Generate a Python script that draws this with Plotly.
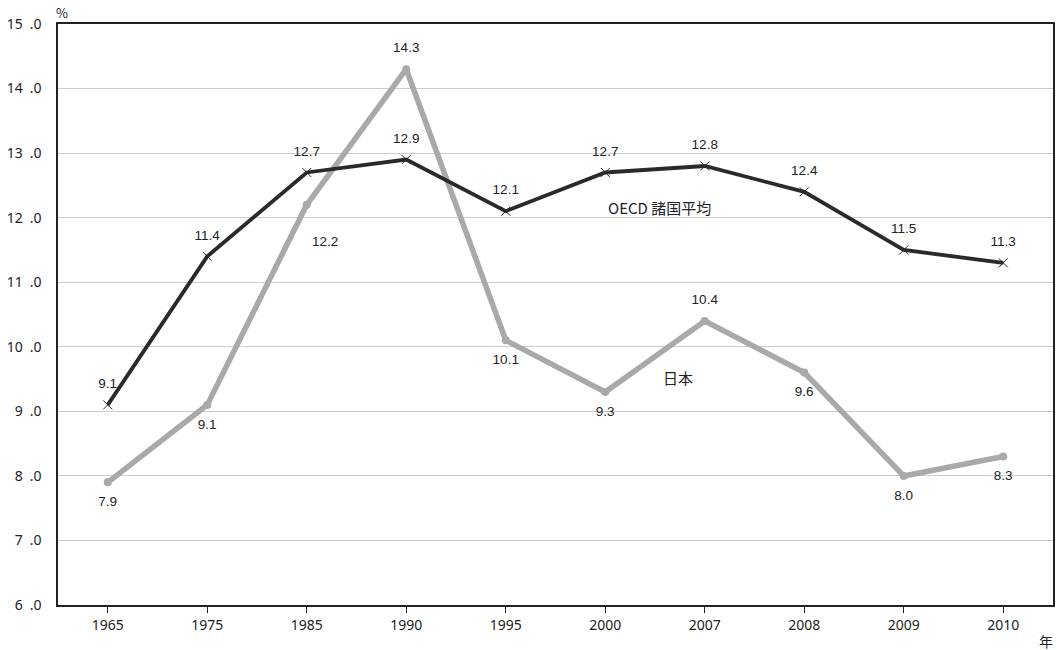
import plotly.graph_objects as go

years = ["1965", "1975", "1985", "1990", "1995", "2000", "2007", "2008", "2009", "2010"]
oecd = [9.1, 11.4, 12.7, 12.9, 12.1, 12.7, 12.8, 12.4, 11.5, 11.3]
japan = [7.9, 9.1, 12.2, 14.3, 10.1, 9.3, 10.4, 9.6, 8.0, 8.3]
japan_label_pos = ["bottom center", "bottom center", "bottom center", "top center", "bottom center",
                   "bottom center", "top center", "bottom center", "bottom center", "bottom center"]
y_ticks = [6, 7, 8, 9, 10, 11, 12, 13, 14, 15]
y_ticktext = [f"{v}\u2002.0" for v in y_ticks]

label_font = dict(family="Liberation Sans, Arial, sans-serif", size=13.5, color="#222222")
axis_font = dict(family="Noto Sans, DejaVu Sans, sans-serif", size=14, color="#222222")
jp_font = "Noto Sans CJK JP, Noto Sans, sans-serif"

fig = go.Figure()

fig.add_trace(go.Scatter(
    x=years, y=japan, mode="lines+markers",
    line=dict(color="#a9a9a9", width=5.5),
    marker=dict(color="#a9a9a9", size=8, symbol="circle"),
    showlegend=False, hoverinfo="skip",
))

fig.add_trace(go.Scatter(
    x=years, y=oecd, mode="lines+markers",
    line=dict(color="#2a2a2a", width=3.8),
    marker=dict(color="#2a2a2a", size=9, symbol="x-thin", line=dict(color="#2a2a2a", width=1)),
    showlegend=False, hoverinfo="skip",
))

# value labels, offset from the points by a transparent spacer marker
side_idx = years.index("1985")  # this Japan label sits off to the side of its point
jp_text = [f"{v:.1f}" for v in japan]
jp_text[side_idx] = ""
fig.add_trace(go.Scatter(
    x=years, y=japan, mode="markers+text",
    marker=dict(size=20, opacity=0),
    text=jp_text, textposition=japan_label_pos,
    textfont=label_font, cliponaxis=False, showlegend=False,
))
fig.add_trace(go.Scatter(
    x=years, y=oecd, mode="markers+text",
    marker=dict(size=20, opacity=0),
    text=[f"{v:.1f}" for v in oecd], textposition="top center",
    textfont=label_font, cliponaxis=False, showlegend=False,
))
fig.add_annotation(x=side_idx, y=japan[side_idx], xref="x", yref="y", text=f"{japan[side_idx]:.1f}",
                   showarrow=False, xshift=18, yshift=-37, font=label_font)

fig.add_annotation(x=5.55, y=12.15, xref="x", yref="y", text="OECD 諸国平均",
                   showarrow=False, font=dict(family=jp_font, size=15, color="#222222"))
fig.add_annotation(x=5.73, y=9.53, xref="x", yref="y", text="日本",
                   showarrow=False, font=dict(family=jp_font, size=15, color="#222222"))
fig.add_annotation(x=0, y=1.0, xref="paper", yref="paper", text="%", xanchor="left", yanchor="bottom",
                   xshift=-4, yshift=0, showarrow=False, font=dict(family=jp_font, size=13, color="#222222"))
fig.add_annotation(x=1, y=0, xref="paper", yref="paper", text="年", xanchor="right", yanchor="top",
                   xshift=2, yshift=-24, showarrow=False, font=dict(family=jp_font, size=14, color="#222222"))

fig.update_layout(
    width=1058, height=650,
    margin=dict(l=58, r=3, t=24, b=45),
    paper_bgcolor="white", plot_bgcolor="white",
    xaxis=dict(type="category", range=[-0.5, 9.5], showgrid=False,
               showline=True, linecolor="#222222", linewidth=1.5, mirror=True,
               ticks="outside", ticklen=6, tickcolor="#222222", tickfont=axis_font),
    yaxis=dict(range=[6, 15], tickvals=y_ticks, ticktext=y_ticktext,
               showgrid=True, gridcolor="#cccccc", gridwidth=1,
               showline=True, linecolor="#222222", linewidth=1.5, mirror=True,
               ticks="", ticklabelstandoff=12, tickfont=axis_font, zeroline=False),
)

fig.write_html("out.html")
